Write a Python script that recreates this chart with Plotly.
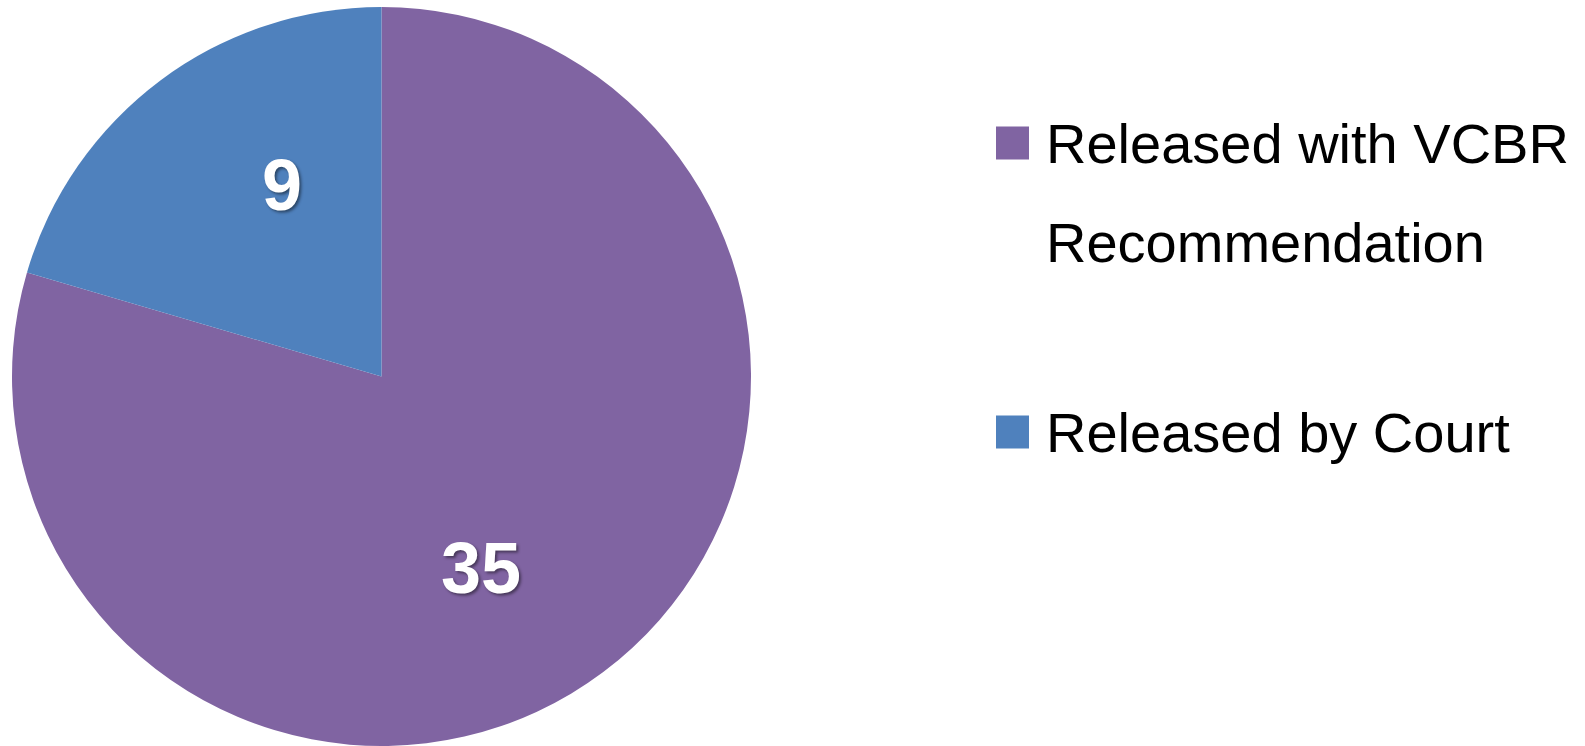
import math
import plotly.graph_objects as go

# Data
labels = ["Released with VCBR Recommendation", "Released by Court"]
values = [35, 9]
colors = ["#8064A2", "#4F81BD"]
legend_lines = [["Released with VCBR", "Recommendation"], ["Released by Court"]]

W, H = 1585, 746
FONT = "Liberation Sans, Arial, sans-serif"

# pie placement (pixels)
cx, top, r_dom = 381.5, 7.0, 371.0
cy = (top + H) / 2.0
r = (H - top) / 2.0

fig = go.Figure()
fig.add_trace(go.Pie(
    labels=labels,
    values=values,
    marker=dict(colors=colors, line=dict(width=0)),
    sort=False,
    direction="clockwise",
    rotation=0,
    textinfo="none",
    showlegend=False,
    hoverinfo="label+value",
    domain=dict(x=[(cx - r_dom) / W, (cx + r_dom) / W], y=[0, 1 - top / H]),
))

annotations = []
shapes = []

# value labels inside slices (positioned from the slice angles)
total = float(sum(values))
cum = 0.0
label_frac, label_shift = 0.585, 9.3
for v in values:
    theta = math.radians((cum + v / 2.0) / total * 360.0 + label_shift)
    cum += v
    px = cx + label_frac * r * math.sin(theta)
    py = cy - label_frac * r * math.cos(theta)
    annotations.append(dict(text=str(v), xref="paper", yref="paper",
                            x=px / W, y=1 - py / H, xanchor="center", yanchor="middle",
                            showarrow=False,
                            font=dict(size=72, color="white", family=FONT, weight="bold",
                                      shadow="2px 2px 3px rgba(0,0,0,0.45)")))

# custom legend (large square swatches like the original)
sq = 33
sq_x0 = 996
entry_rows = [[143, 242], [432]]  # cap-middle y of each text line (px)
for i, lines in enumerate(legend_lines):
    ys = entry_rows[i]
    y0 = ys[0]
    shapes.append(dict(type="rect", xref="paper", yref="paper",
                       x0=sq_x0 / W, x1=(sq_x0 + sq) / W,
                       y0=1 - (y0 + sq / 2) / H, y1=1 - (y0 - sq / 2) / H,
                       fillcolor=colors[i], line=dict(width=0)))
    for line, y in zip(lines, ys):
        annotations.append(dict(text=line, xref="paper", yref="paper",
                                x=1044 / W, y=1 - y / H, xanchor="left", yanchor="middle",
                                showarrow=False,
                                font=dict(size=56, color="black", family=FONT)))

fig.update_layout(
    width=W, height=H,
    margin=dict(l=0, r=0, t=0, b=0),
    paper_bgcolor="white", plot_bgcolor="white",
    shapes=shapes, annotations=annotations,
)

fig.write_html("out.html", config={"displayModeBar": False},
               post_script="document.body.style.margin='0';")
